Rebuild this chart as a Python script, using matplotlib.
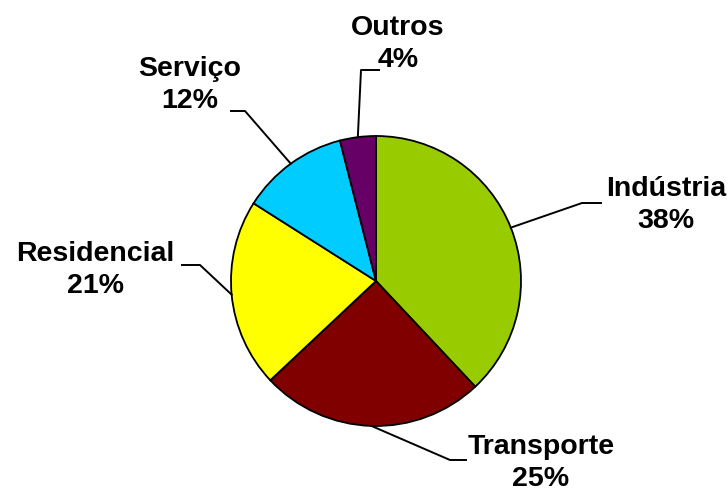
import numpy as np
import matplotlib.pyplot as plt

labels = ['Indústria', 'Transporte', 'Residencial', 'Serviço', 'Outros']
values = [38, 25, 21, 12, 4]
colors = ['#99CC00', '#800000', '#FFFF00', '#00CCFF', '#660066']

# label text centres and leader elbows (pixel coords, y from top)
text_pos = [(666, 205), (541, 463), (95, 270), (190, 85), (398, 44)]
elbows = [((582, 203), (601, 203)), ((450, 460), (466, 460)),
          ((200, 265), (182, 265)), ((245, 111), (231, 111)),
          ((361, 70), (379, 70))]

W, H = 728, 493
fig = plt.figure(figsize=(W / 100, H / 100), dpi=100)
ax = fig.add_axes([0, 0, 1, 1])

cx, cy, r = 376, H - 281, 145
wedges, _ = ax.pie(values, colors=colors, startangle=90, counterclock=False,
                   center=(cx, cy), radius=r, frame=True,
                   wedgeprops=dict(edgecolor='black', linewidth=1.3))
ax.set_xlim(0, W)
ax.set_ylim(0, H)
ax.set_aspect('equal')
ax.axis('off')

for w, lab, v, tp, (e1, e2) in zip(wedges, labels, values, text_pos, elbows):
    ang = np.deg2rad((w.theta1 + w.theta2) / 2)
    sx, sy = cx + r * np.cos(ang), cy + r * np.sin(ang)
    ax.plot([sx, e1[0], e2[0]], [sy, H - e1[1], H - e2[1]], color='black', lw=1.4)
    ax.text(tp[0], H - tp[1], f'{lab}\n{v}%', ha='center', va='center',
            fontsize=20.5, fontweight='bold', family='Liberation Sans',
            linespacing=1.3)

fig.savefig('out.png', dpi=100)
